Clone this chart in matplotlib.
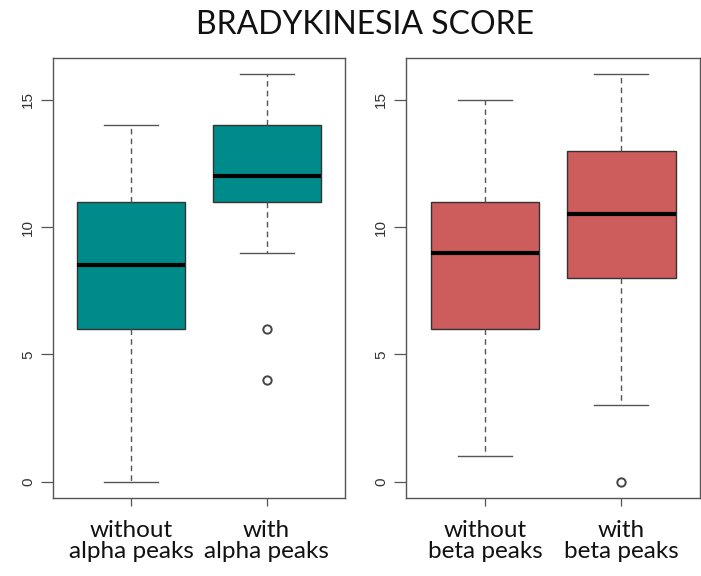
import matplotlib.pyplot as plt

# five-number summaries per group (low whisker, q1, median, q3, high whisker)
alpha_labels = ["without\nalpha peaks", "with\nalpha peaks"]
alpha_whislo = [0, 9]
alpha_q1 = [6, 11]
alpha_med = [8.5, 12]
alpha_q3 = [11, 14]
alpha_whishi = [14, 16]
alpha_fliers = [[], [6, 4]]

beta_labels = ["without\nbeta peaks", "with\nbeta peaks"]
beta_whislo = [1, 3]
beta_q1 = [6, 8]
beta_med = [9, 10.5]
beta_q3 = [11, 13]
beta_whishi = [15, 16]
beta_fliers = [[], [0]]

yticks = [0, 5, 10, 15]


def make_stats(lo, q1, med, q3, hi, fl):
    return [dict(whislo=lo[i], q1=q1[i], med=med[i], q3=q3[i], whishi=hi[i], fliers=fl[i])
            for i in range(len(med))]


def draw_panel(ax, stats, labels, color):
    ax.bxp(stats, positions=[1, 2], widths=0.8, patch_artist=True, showfliers=True,
           boxprops=dict(facecolor=color, edgecolor="#333333", linewidth=1.0),
           medianprops=dict(color="black", linewidth=3, solid_capstyle="butt"),
           whiskerprops=dict(color="#555555", linestyle=(0, (4, 3)), linewidth=1.0),
           capprops=dict(color="#555555", linewidth=1.0),
           capwidths=0.4,
           flierprops=dict(marker="o", markerfacecolor="none", markeredgecolor="#444444",
                           markersize=6, markeredgewidth=1.4))
    ax.set_xlim(0.42, 2.58)
    ax.set_ylim(-0.64, 16.64)
    ax.set_yticks(yticks)
    ax.set_yticklabels([str(t) for t in yticks], rotation=90, va="center",
                       fontsize=11, family="Liberation Sans", color="#333333")
    ax.set_xticks([1, 2])
    ax.set_xticklabels(labels, fontsize=17.5, family="Lato", linespacing=1.0,
                       color="#111111")
    ax.tick_params(axis="y", length=9, width=0.9, color="#555555", pad=4)
    ax.tick_params(axis="x", length=6, width=0.9, color="#555555", pad=10)
    for s in ax.spines.values():
        s.set_color("#555555")
        s.set_linewidth(1.0)


fig = plt.figure(figsize=(7.01, 5.76), dpi=100)
ax1 = fig.add_axes([53 / 701, 78 / 576, 292 / 701, 440 / 576])
ax2 = fig.add_axes([406 / 701, 78 / 576, 294 / 701, 440 / 576])

draw_panel(ax1, make_stats(alpha_whislo, alpha_q1, alpha_med, alpha_q3, alpha_whishi, alpha_fliers),
           alpha_labels, "#008B8B")
draw_panel(ax2, make_stats(beta_whislo, beta_q1, beta_med, beta_q3, beta_whishi, beta_fliers),
           beta_labels, "#CD5C5C")

fig.text(0.52, 0.957, "BRADYKINESIA SCORE", ha="center", va="center",
         fontsize=23, family="Lato", color="#111111")

fig.savefig("out.png", dpi=100)
